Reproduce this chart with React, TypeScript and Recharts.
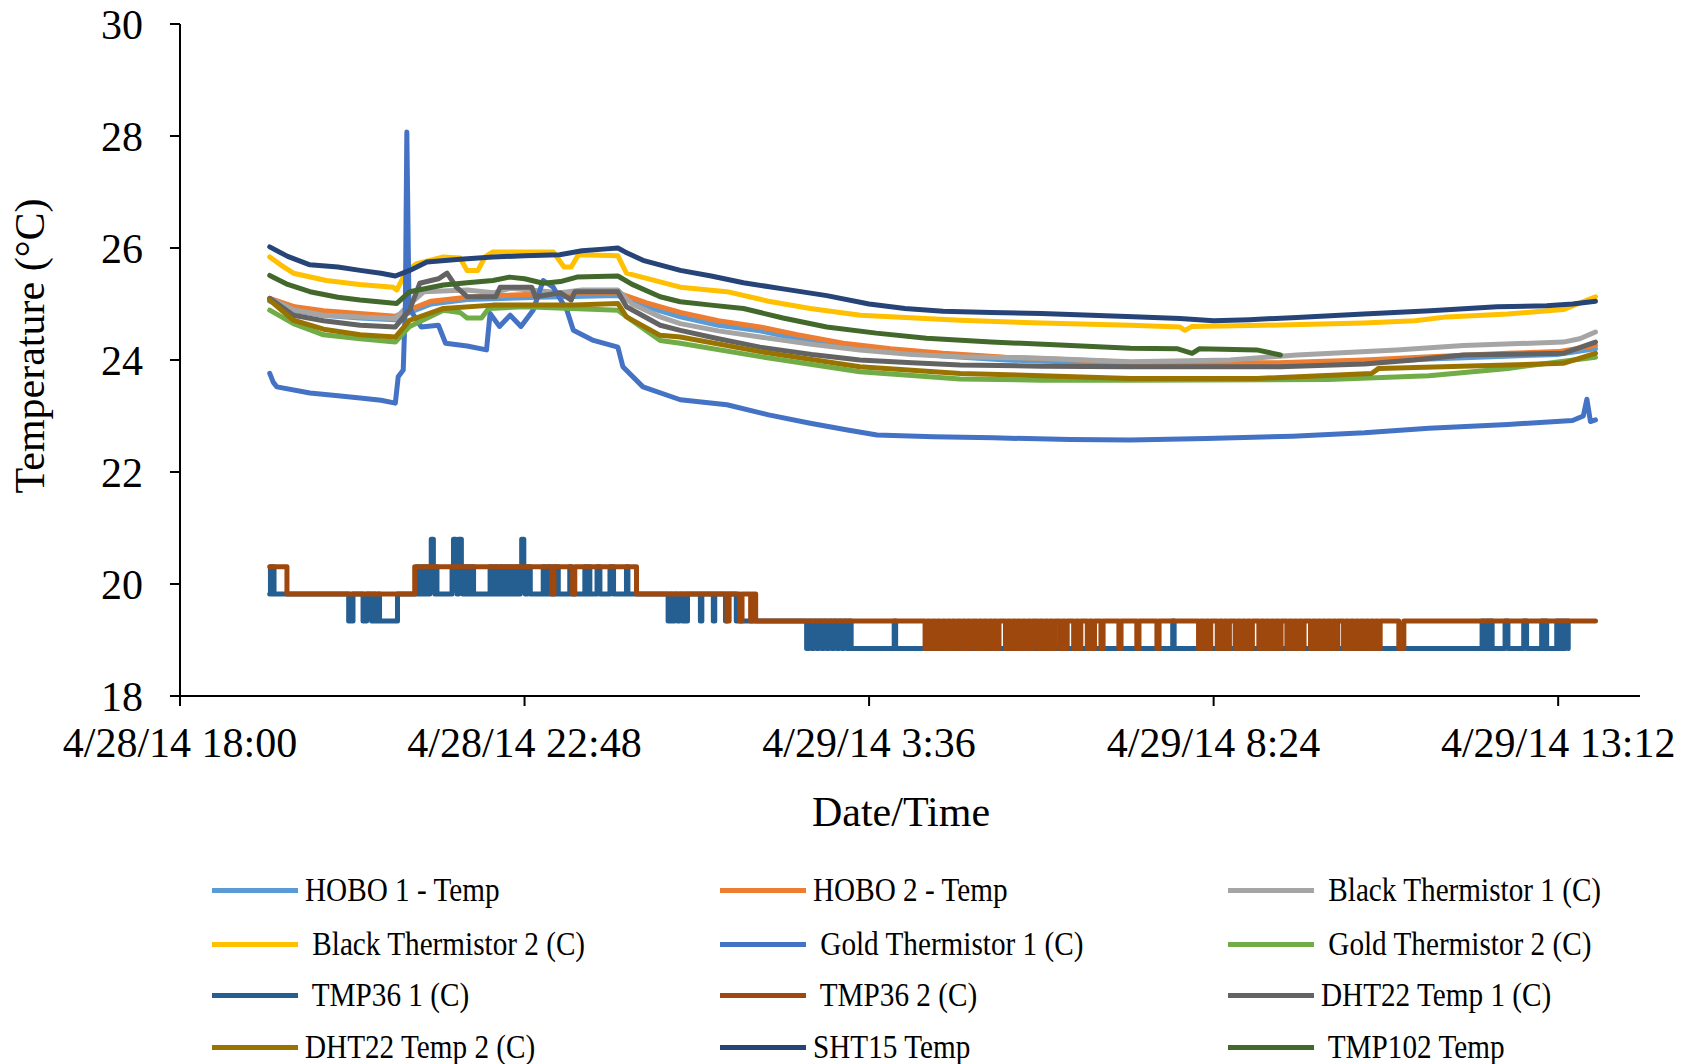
import React from "react";
import { LineChart, Line, XAxis, YAxis } from "recharts";

const FONT = '"Liberation Serif", "Times New Roman", serif';

// x values are hours after 4/28/14 18:00
const xTicks = [0, 4.8, 9.6, 14.4, 19.2];
const xTickLabels = ["4/28/14 18:00", "4/28/14 22:48", "4/29/14 3:36", "4/29/14 8:24", "4/29/14 13:12"];
const yTicks = [18, 20, 22, 24, 26, 28, 30];

type Pt = [number, number];

const hobo1: Pt[] = [
  [1.25, 25.05], [1.6, 24.88], [2.0, 24.8], [2.5, 24.75], [3.0, 24.72], [3.2, 24.85], [3.5, 25.0], [4.0, 25.08],
  [5.0, 25.12], [6.1, 25.15], [6.5, 24.95], [6.97, 24.77], [7.5, 24.62], [8.08, 24.52], [8.6, 24.38], [9.24, 24.25],
  [9.9, 24.15], [10.63, 24.07], [11.5, 24.0], [12.5, 23.96], [13.24, 23.92], [15.3, 23.92], [17.42, 24.02],
  [19.2, 24.1], [19.72, 24.2],
];
const hobo2: Pt[] = [
  [1.25, 25.1], [1.6, 24.95], [2.0, 24.88], [2.5, 24.83], [3.0, 24.78], [3.2, 24.9], [3.5, 25.05], [4.0, 25.12],
  [4.5, 25.15], [5.0, 25.18], [5.5, 25.2], [6.1, 25.2], [6.5, 25.02], [6.97, 24.85], [7.5, 24.7], [8.08, 24.59],
  [8.6, 24.45], [9.24, 24.3], [9.9, 24.2], [10.63, 24.12], [11.5, 24.05], [12.5, 24.0], [13.24, 23.96],
  [15.3, 23.95], [16.5, 24.0], [17.42, 24.06], [18.5, 24.12], [19.2, 24.15], [19.72, 24.26],
];
const blackT1: Pt[] = [
  [1.25, 25.1], [1.6, 24.89], [2.0, 24.8], [2.5, 24.77], [3.0, 24.74], [3.2, 25.0], [3.4, 25.22], [4.0, 25.25],
  [4.36, 25.2], [4.6, 25.28], [5.3, 25.2], [5.6, 25.25], [6.1, 25.25], [6.3, 25.0], [6.69, 24.77], [6.97, 24.65],
  [7.5, 24.52], [8.08, 24.41], [8.8, 24.28], [9.47, 24.18], [10.2, 24.1], [10.87, 24.06], [12.0, 24.03],
  [13.24, 23.97], [14.63, 24.0], [15.56, 24.09], [16.95, 24.18], [17.88, 24.26], [19.27, 24.32], [19.5, 24.38],
  [19.72, 24.5],
];
const blackT2: Pt[] = [
  [1.25, 25.84], [1.4, 25.7], [1.58, 25.55], [2.04, 25.42], [2.5, 25.35], [2.97, 25.3], [3.02, 25.25], [3.16, 25.6],
  [3.3, 25.72], [3.67, 25.84], [3.9, 25.82], [4.0, 25.6], [4.15, 25.6], [4.25, 25.84], [4.36, 25.93], [5.2, 25.93],
  [5.35, 25.66], [5.45, 25.66], [5.55, 25.88], [6.1, 25.86], [6.22, 25.55], [6.97, 25.3], [7.62, 25.22],
  [8.2, 25.05], [8.78, 24.92], [9.48, 24.8], [10.87, 24.71], [12.0, 24.66], [13.24, 24.62], [13.93, 24.59],
  [14.0, 24.53], [14.1, 24.6], [15.1, 24.62], [16.49, 24.66], [17.2, 24.7], [17.65, 24.77], [18.5, 24.82],
  [19.27, 24.9], [19.72, 25.13],
];
const goldT1: Pt[] = [
  [1.25, 23.76], [1.3, 23.6], [1.35, 23.52], [1.81, 23.41], [2.2, 23.36], [2.51, 23.32], [2.8, 23.28], [3.0, 23.23],
  [3.04, 23.7], [3.11, 23.82], [3.14, 25.0], [3.16, 28.07], [3.19, 25.0], [3.23, 24.85], [3.36, 24.59], [3.6, 24.62],
  [3.7, 24.3], [4.0, 24.25], [4.27, 24.18], [4.32, 24.83], [4.45, 24.6], [4.6, 24.8], [4.75, 24.6], [4.92, 24.89],
  [5.06, 25.42], [5.2, 25.3], [5.39, 24.89], [5.48, 24.53], [5.76, 24.35], [6.1, 24.23], [6.17, 23.88],
  [6.45, 23.52], [6.97, 23.29], [7.62, 23.2], [8.2, 23.02], [8.78, 22.87], [9.3, 22.75], [9.71, 22.66],
  [10.5, 22.63], [11.33, 22.61], [12.4, 22.58], [13.24, 22.57], [14.3, 22.6], [15.5, 22.64], [16.5, 22.7],
  [17.4, 22.78], [18.5, 22.85], [19.4, 22.92], [19.55, 23.0], [19.6, 23.3], [19.65, 22.9], [19.72, 22.93],
];
const goldT2: Pt[] = [
  [1.25, 24.89], [1.58, 24.65], [2.0, 24.45], [2.51, 24.38], [3.0, 24.32], [3.2, 24.6], [3.67, 24.89], [3.9, 24.85],
  [4.0, 24.75], [4.2, 24.75], [4.3, 24.92], [4.8, 24.95], [6.1, 24.89], [6.3, 24.7], [6.69, 24.35], [6.97, 24.3],
  [8.08, 24.06], [9.47, 23.79], [10.87, 23.66], [12.0, 23.64], [13.24, 23.64], [16.0, 23.65], [17.4, 23.72],
  [18.5, 23.85], [19.72, 24.05],
];
const dht1: Pt[] = [
  [1.25, 25.1], [1.58, 24.8], [2.0, 24.7], [2.51, 24.62], [3.0, 24.59], [3.2, 24.9], [3.34, 25.37], [3.6, 25.45],
  [3.72, 25.55], [3.85, 25.3], [4.0, 25.13], [4.4, 25.13], [4.46, 25.3], [4.9, 25.3], [4.95, 25.13], [5.3, 25.2],
  [5.45, 25.07], [5.5, 25.22], [6.1, 25.22], [6.22, 24.95], [6.69, 24.62], [6.97, 24.53], [7.5, 24.38],
  [8.08, 24.23], [8.8, 24.1], [9.47, 24.0], [10.2, 23.95], [10.87, 23.91], [12.0, 23.89], [13.24, 23.88],
  [15.33, 23.88], [16.5, 23.93], [17.19, 24.0], [17.88, 24.09], [19.27, 24.12], [19.72, 24.32],
];
const dht2: Pt[] = [
  [1.25, 25.07], [1.58, 24.71], [2.0, 24.55], [2.51, 24.45], [3.0, 24.41], [3.2, 24.71], [3.67, 24.92],
  [4.36, 24.98], [5.5, 24.98], [6.1, 25.01], [6.22, 24.77], [6.69, 24.44], [6.97, 24.41], [8.08, 24.15],
  [9.47, 23.88], [10.87, 23.76], [12.0, 23.72], [13.24, 23.67], [15.0, 23.67], [16.6, 23.76], [16.7, 23.85],
  [19.27, 23.94], [19.72, 24.12],
];
const sht15: Pt[] = [
  [1.25, 26.02], [1.5, 25.85], [1.81, 25.7], [2.2, 25.66], [2.51, 25.6], [2.8, 25.55], [3.0, 25.5], [3.2, 25.6],
  [3.44, 25.75], [3.9, 25.8], [4.36, 25.84], [4.8, 25.86], [5.29, 25.88], [5.6, 25.95], [5.9, 25.98], [6.1, 26.0],
  [6.2, 25.93], [6.45, 25.78], [6.97, 25.6], [7.4, 25.5], [7.85, 25.38], [8.4, 25.27], [9.01, 25.15], [9.6, 25.0],
  [10.1, 24.92], [10.63, 24.87], [11.3, 24.85], [12.0, 24.83], [12.7, 24.8], [13.38, 24.77], [13.93, 24.74],
  [14.4, 24.7], [14.9, 24.72], [15.56, 24.76], [16.49, 24.82], [17.42, 24.88], [18.35, 24.95], [19.04, 24.97],
  [19.4, 25.0], [19.72, 25.05],
];
const tmp102: Pt[] = [
  [1.25, 25.51], [1.5, 25.35], [1.81, 25.22], [2.2, 25.12], [2.51, 25.07], [3.02, 25.01], [3.2, 25.22],
  [3.67, 25.34], [4.0, 25.38], [4.36, 25.42], [4.59, 25.48], [4.8, 25.45], [5.06, 25.37], [5.3, 25.4],
  [5.53, 25.48], [6.1, 25.5], [6.3, 25.35], [6.69, 25.13], [6.97, 25.04], [7.4, 24.98], [7.85, 24.92],
  [8.4, 24.75], [9.01, 24.59], [9.7, 24.48], [10.4, 24.39], [11.3, 24.32], [12.26, 24.27], [13.24, 24.21],
  [13.9, 24.2], [14.1, 24.12], [14.2, 24.2], [15.0, 24.18], [15.33, 24.09],
];

// TMP36 readings are quantised to these levels
const tmp36Levels = [18.85, 19.34, 19.82, 20.31, 20.8];
// [hour, level index] change points
const tmp36aSteps: Pt[] = [
  [1.25, 2], [1.26, 3], [1.28, 2], [1.3, 3], [1.31, 2],
  [2.35, 1], [2.41, 2], [2.55, 1], [2.6, 2], [2.67, 1], [2.7, 2], [2.72, 1], [2.76, 2], [2.78, 1], [3.03, 2],
  [3.3, 3], [3.33, 2], [3.37, 3], [3.4, 2], [3.42, 3], [3.44, 2],
  [3.48, 3], [3.5, 4], [3.53, 3], [3.55, 2], [3.56, 3], [3.58, 2],
  [3.79, 3], [3.81, 4], [3.84, 3], [3.86, 2], [3.88, 4], [3.92, 3], [3.94, 2], [3.96, 3], [3.99, 2], [4.01, 3],
  [4.04, 2], [4.06, 3], [4.09, 2],
  [4.32, 3], [4.35, 2], [4.39, 3], [4.42, 2], [4.46, 3], [4.49, 2], [4.53, 3], [4.56, 2], [4.6, 3], [4.63, 2],
  [4.67, 3], [4.7, 2], [4.74, 3], [4.76, 4], [4.79, 3], [4.81, 2], [4.84, 3], [4.88, 2],
  [5.06, 3], [5.09, 2], [5.13, 3], [5.16, 2], [5.19, 3], [5.21, 2], [5.24, 3], [5.27, 2],
  [5.43, 3], [5.45, 2], [5.64, 3], [5.67, 2], [5.69, 3], [5.71, 2], [5.81, 3], [5.85, 2], [5.99, 3], [6.04, 2],
  [6.22, 3], [6.24, 2],
  [6.8, 1], [6.83, 2], [6.86, 1], [6.89, 2], [6.93, 1], [6.96, 2], [7.0, 1], [7.03, 2], [7.05, 1], [7.07, 2],
  [7.25, 1], [7.27, 2], [7.43, 1], [7.45, 2], [7.6, 1], [7.62, 2], [7.75, 1],
  [8.73, 0], [8.76, 1], [8.8, 0], [8.83, 1], [8.87, 0], [8.9, 1], [8.94, 0], [8.97, 1], [9.01, 0], [9.04, 1],
  [9.08, 0], [9.11, 1], [9.15, 0], [9.18, 1], [9.22, 0], [9.25, 1], [9.29, 0], [9.32, 1], [9.35, 0],
  [9.95, 1], [9.97, 0], [13.83, 1], [13.85, 0],
  [18.14, 1], [18.17, 0], [18.2, 1], [18.23, 0], [18.25, 1], [18.28, 0],
  [18.46, 1], [18.5, 0], [18.72, 1], [18.76, 0], [18.97, 1], [19.0, 0], [19.02, 1], [19.04, 0],
  [19.18, 1], [19.21, 0], [19.24, 1], [19.27, 0], [19.3, 1], [19.34, 0],
];
const tmp36bSteps: Pt[] = [
  [1.25, 3], [1.49, 2], [3.27, 3], [5.18, 2], [5.21, 3], [5.47, 2], [5.5, 3], [6.36, 2],
  [7.62, 1], [7.65, 2], [7.8, 1], [7.83, 2], [7.95, 1], [7.97, 2], [8.02, 1], [19.72, 1],
];
// short drops of TMP36 2 from 19.34 to 18.85
const tmp36bDips: Pt[] = [
  [10.38, 10.41], [10.45, 10.48], [10.52, 10.55], [10.59, 10.62], [10.66, 10.69], [10.73, 10.76], [10.8, 10.83],
  [10.87, 10.9], [10.94, 10.97], [11.01, 11.04], [11.1, 11.13], [11.17, 11.2], [11.24, 11.27], [11.31, 11.34],
  [11.38, 11.41], [11.5, 11.53], [11.57, 11.6], [11.64, 11.67], [11.71, 11.74], [11.78, 11.81], [11.85, 11.88],
  [11.95, 11.98], [12.02, 12.05], [12.09, 12.12], [12.16, 12.19], [12.26, 12.29], [12.33, 12.36], [12.45, 12.48],
  [12.52, 12.55], [12.64, 12.67], [12.71, 12.74], [12.83, 12.86], [13.08, 13.11], [13.33, 13.36], [13.61, 13.64],
  [14.19, 14.22], [14.26, 14.29], [14.33, 14.36], [14.45, 14.48], [14.52, 14.55], [14.59, 14.62], [14.7, 14.73],
  [14.77, 14.8], [14.84, 14.87], [14.91, 14.94], [15.03, 15.06], [15.1, 15.13], [15.17, 15.2], [15.24, 15.27],
  [15.31, 15.34], [15.42, 15.45], [15.49, 15.52], [15.56, 15.59], [15.63, 15.66], [15.75, 15.78], [15.82, 15.85],
  [15.89, 15.92], [15.96, 15.99], [16.03, 16.06], [16.1, 16.13], [16.21, 16.24], [16.28, 16.31], [16.35, 16.38],
  [16.42, 16.45], [16.49, 16.52], [16.56, 16.59], [16.63, 16.66], [16.69, 16.72], [16.98, 17.05],
];

const toRows = (pts: Pt[]) => pts.map(([h, t]) => ({ h, t }));
const stepRows = (pts: Pt[]) =>
  [...pts].sort((a, b) => a[0] - b[0]).map(([h, i]) => ({ h, t: tmp36Levels[i] }));

const tmp36bAll: Pt[] = [...tmp36bSteps, ...tmp36bDips.flatMap(([s, e]) => [[s, 0], [e, 1]] as Pt[])];

const series = [
  { name: "HOBO 1 - Temp", color: "#5B9BD5", data: toRows(hobo1), step: false },
  { name: "HOBO 2 - Temp", color: "#ED7D31", data: toRows(hobo2), step: false },
  { name: " Black Thermistor 1 (C)", color: "#A5A5A5", data: toRows(blackT1), step: false },
  { name: " Black Thermistor 2 (C)", color: "#FFC000", data: toRows(blackT2), step: false },
  { name: " Gold Thermistor 1 (C)", color: "#4472C4", data: toRows(goldT1), step: false },
  { name: " Gold Thermistor 2 (C)", color: "#70AD47", data: toRows(goldT2), step: false },
  { name: " TMP36 1 (C)", color: "#255E91", data: stepRows(tmp36aSteps), step: true },
  { name: " TMP36 2 (C)", color: "#9E480E", data: stepRows(tmp36bAll), step: true },
  { name: "DHT22 Temp 1 (C)", color: "#636363", data: toRows(dht1), step: false },
  { name: "DHT22 Temp 2 (C)", color: "#997300", data: toRows(dht2), step: false },
  { name: "SHT15 Temp", color: "#264478", data: toRows(sht15), step: false },
  { name: " TMP102 Temp", color: "#43682B", data: toRows(tmp102), step: false },
];

const legendCols = [212, 720, 1228];
const legendRows = [890, 944, 995, 1047];

export default function App() {
  return (
    <div style={{ position: "absolute", left: 0, top: 0, width: 1689, height: 1064, background: "#fff", fontFamily: FONT, overflow: "hidden" }}>
      <LineChart width={1689} height={860} margin={{ top: 24, right: 49, bottom: 0, left: 0 }}>
        <XAxis
          type="number"
          dataKey="h"
          domain={[0, 20.34]}
          ticks={xTicks}
          interval={0}
          allowDataOverflow
          height={164}
          tickSize={10}
          tickMargin={21}
          tickFormatter={(v: number) => xTickLabels[xTicks.indexOf(v)] ?? ""}
          axisLine={{ stroke: "#000", strokeWidth: 2 }}
          tickLine={{ stroke: "#000", strokeWidth: 2 }}
          tick={{ fill: "#000", fontSize: 42, fontFamily: FONT }}
        />
        <YAxis
          type="number"
          domain={[18, 30]}
          ticks={yTicks}
          interval={0}
          allowDataOverflow
          width={180}
          tickSize={10}
          tickMargin={27}
          axisLine={{ stroke: "#000", strokeWidth: 2 }}
          tickLine={{ stroke: "#000", strokeWidth: 2 }}
          tick={{ fill: "#000", fontSize: 42, fontFamily: FONT }}
        />
        {series.map((s) => (
          <Line
            key={s.name}
            name={s.name}
            data={s.data}
            dataKey="t"
            type={s.step ? "stepAfter" : "linear"}
            stroke={s.color}
            strokeWidth={5}
            strokeLinejoin="round"
            strokeLinecap="round"
            dot={false}
            activeDot={false}
            isAnimationActive={false}
          />
        ))}
      </LineChart>

      {/* axis titles */}
      <div style={{ position: "absolute", left: -170, top: 322, width: 400, height: 48, lineHeight: "48px", fontSize: 42, textAlign: "center", color: "#000", transform: "rotate(-90deg)", whiteSpace: "nowrap" }}>
        Temperature (°C)
      </div>
      <div style={{ position: "absolute", left: 701, top: 788, width: 400, height: 48, lineHeight: "48px", fontSize: 42, textAlign: "center", color: "#000" }}>
        Date/Time
      </div>

      {/* legend */}
      {series.map((s, i) => (
        <div
          key={s.name}
          style={{ position: "absolute", left: legendCols[i % 3], top: legendRows[Math.floor(i / 3)] - 20, height: 40, display: "flex", alignItems: "center" }}
        >
          <div style={{ width: 86, height: 5, background: s.color }} />
          <span style={{ marginLeft: 7, fontSize: 33, lineHeight: "40px", whiteSpace: "pre", display: "inline-block", transform: "scaleX(0.885)", transformOrigin: "left center", color: "#000" }}>
            {s.name}
          </span>
        </div>
      ))}
    </div>
  );
}
